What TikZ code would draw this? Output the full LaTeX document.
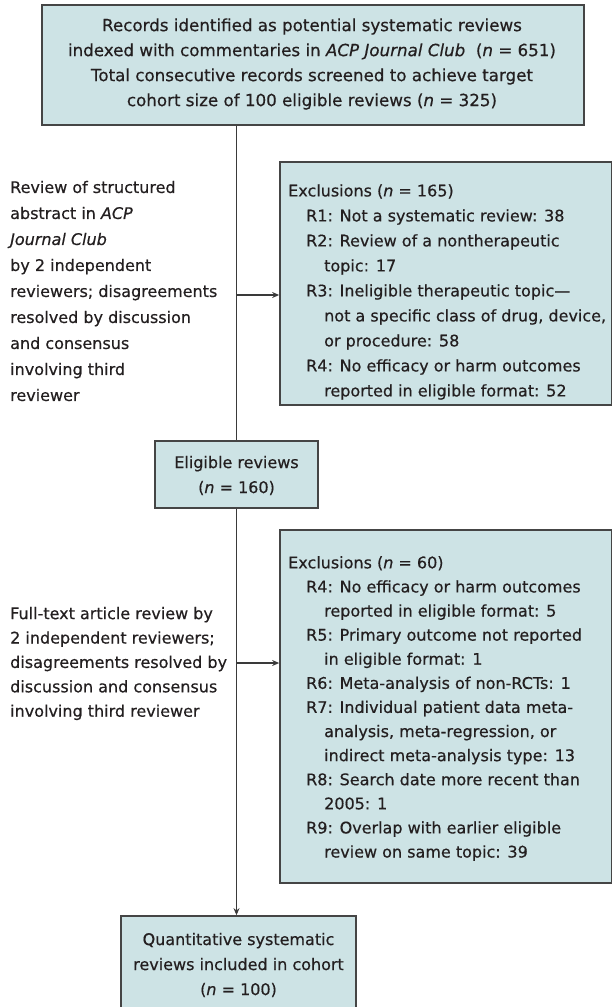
\documentclass[tikz,border=0pt]{standalone}
\usepackage{fontspec}
\setmainfont{DejaVu Sans}[FakeBold=0.5]
\usetikzlibrary{arrows.meta,positioning,calc}
\usepackage{xcolor}
\definecolor{boxfill}{HTML}{CDE3E5}
\definecolor{boxline}{HTML}{454545}
\definecolor{ink}{HTML}{231F20}
\definecolor{conn}{HTML}{3A3A3A}
\newcommand{\nn}{\textit{n}}
\newcommand{\ind}{\hspace*{18pt}}
\newcommand{\indd}{\hspace*{36pt}}

\begin{document}
\begin{tikzpicture}[
  x=1pt, y=-1pt,
  >={Stealth[length=7pt,width=6pt]},
  box/.style={draw=boxline, fill=boxfill, line width=1.7pt, inner sep=0pt},
  txt/.style={font=\fontsize{16}{25}\selectfont, text=ink, inner sep=0pt},
  conn/.style={draw=conn, line width=1.2pt},
]
\useasboundingbox (0,0) rectangle (611,1007);

% boxes
\node[box, minimum width=542pt, minimum height=120pt] (top) at (313, 65) {};
\node[txt, align=center, font=\fontsize{16.7}{25}\selectfont] (toptxt) at (312, 64) {Records identified as potential systematic reviews\\
  indexed with commentaries in \textit{ACP Journal Club}\ \ (\nn{} = 651)\\
  Total consecutive records screened to achieve target\\
  cohort size of 100 eligible reviews (\nn{} = 325)};

\node[box, minimum width=332pt, minimum height=243pt] (exa) at (446, 283.5) {};
\node[txt, align=left, anchor=west] (exatxt) at (288, 292) {Exclusions (\nn{} = 165)\\
  \ind R1: Not a systematic review: 38\\
  \ind R2: Review of a nontherapeutic\\
  \indd topic: 17\\
  \ind R3: Ineligible therapeutic topic---\\
  \indd not a specific class of drug, device,\\
  \indd or procedure: 58\\
  \ind R4: No efficacy or harm outcomes\\
  \indd reported in eligible format: 52};

\node[box, minimum width=163pt, minimum height=67pt] (elig) at (236.5, 474.5) {};
\node[txt, align=center] (eligtxt) at (236.5, 475.5) {Eligible reviews\\(\nn{} = 160)};

\node[box, minimum width=332pt, minimum height=353pt] (exb) at (446, 706.5) {};
\node[txt, align=left, anchor=west, font=\fontsize{16}{24.1}\selectfont] (exbtxt) at (288, 708.5) {Exclusions (\nn{} = 60)\\
  \ind R4: No efficacy or harm outcomes\\
  \indd reported in eligible format: 5\\
  \ind R5: Primary outcome not reported\\
  \indd in eligible format: 1\\
  \ind R6: Meta-analysis of non-RCTs: 1\\
  \ind R7: Individual patient data meta-\\
  \indd analysis, meta-regression, or\\
  \indd indirect meta-analysis type: 13\\
  \ind R8: Search date more recent than\\
  \indd 2005: 1\\
  \ind R9: Overlap with earlier eligible\\
  \indd review on same topic: 39};

\node[box, minimum width=235pt, minimum height=99pt] (final) at (238.5, 965.5) {};
\node[txt, align=center] (finaltxt) at (238.5, 965) {Quantitative systematic\\reviews included in cohort\\(\nn{} = 100)};

% side texts
\node[txt, align=left, anchor=west, font=\fontsize{16}{26}\selectfont] (stepa) at (10, 291) {Review of structured\\
  abstract in \textit{ACP}\\
  \textit{Journal Club}\\
  by 2 independent\\
  reviewers; disagreements\\
  resolved by discussion\\
  and consensus\\
  involving third\\
  reviewer};
\node[txt, align=left, anchor=west, font=\fontsize{16}{24.4}\selectfont] (stepb) at (10, 663.5) {Full-text article review by\\
  2 independent reviewers;\\
  disagreements resolved by\\
  discussion and consensus\\
  involving third reviewer};

% connectors
\coordinate (ja) at (236.5, 295);
\coordinate (jb) at (236.5, 663);
\draw[conn] (ja |- top.south) -- (elig.north);
\draw[conn, ->] (ja) -- (exa.west |- ja);
\draw[conn, ->] (elig.south) -- (final.north -| elig.south);
\draw[conn, ->] (jb) -- (exb.west |- jb);

\end{tikzpicture}
\end{document}
